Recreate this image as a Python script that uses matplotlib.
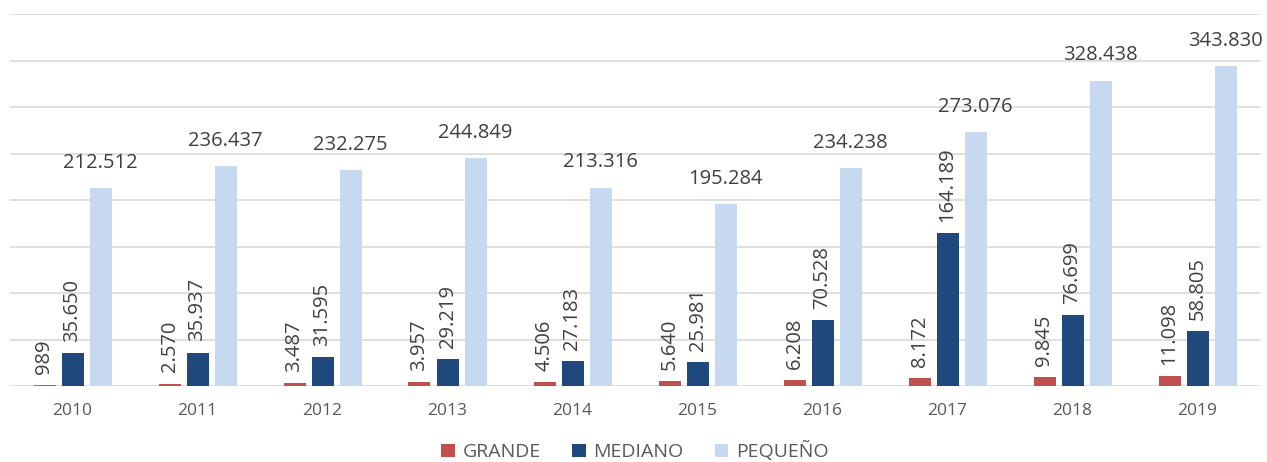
import numpy as np
import matplotlib
matplotlib.use("Agg")
from matplotlib import pyplot as plt

plt.rcParams["font.family"] = ["Open Sans", "DejaVu Sans"]

years = ["2010", "2011", "2012", "2013", "2014", "2015", "2016", "2017", "2018", "2019"]
grande = [989, 2570, 3487, 3957, 4506, 5640, 6208, 8172, 9845, 11098]
mediano = [35650, 35937, 31595, 29219, 27183, 25981, 70528, 164189, 76699, 58805]
pequeno = [212512, 236437, 232275, 244849, 213316, 195284, 234238, 273076, 328438, 343830]

TEXT = "#404040"


def fmt(v):
    return f"{v:,}".replace(",", ".")


fig = plt.figure(figsize=(12.67, 4.62), dpi=100)
ax = fig.add_axes([10 / 1267, 76 / 462, 1250 / 1267, 372 / 462])

x = np.arange(len(years))
w = 0.176
step = 0.224

series = [
    ("GRANDE", grande, "#C0504D", -step, True),
    ("MEDIANO", mediano, "#1F497D", 0.0, True),
    ("PEQUEÑO", pequeno, "#C6D9F1", step, False),
]

for name, vals, color, off, rotated in series:
    bars = ax.bar(x + off, vals, width=w, color=color, label=name, zorder=3)
    for b, v in zip(bars, vals):
        cx = b.get_x() + b.get_width() / 2
        if rotated:
            ax.annotate(fmt(v), (cx, v), xytext=(0, 8), textcoords="offset points",
                        ha="center", va="bottom", rotation=90, fontsize=14.5, color=TEXT)
        else:
            ax.annotate(fmt(v), (cx, v), xytext=(0, 11), textcoords="offset points",
                        ha="center", va="bottom", fontsize=14.5, color=TEXT)

ax.set_xlim(-0.5, len(years) - 0.5)
ax.set_ylim(0, 400000)
ax.set_yticks(np.arange(0, 400001, 50000))
ax.set_yticklabels([])
ax.yaxis.grid(True, color="#D9D9D9", linewidth=1.2, zorder=0)
ax.tick_params(axis="y", length=0)
ax.set_xticks(x)
ax.set_xticklabels(years, fontsize=12.5, color="#595959")
ax.tick_params(axis="x", length=0, pad=12)
for s in ax.spines.values():
    s.set_visible(False)

ax.legend(loc="center", bbox_to_anchor=(0.5, -0.175), ncol=3, frameon=False,
          handlelength=0.7, handleheight=0.7, handletextpad=0.4, columnspacing=1.6,
          prop={"size": 14}, labelcolor="#595959")

fig.savefig("out.png", dpi=100)
